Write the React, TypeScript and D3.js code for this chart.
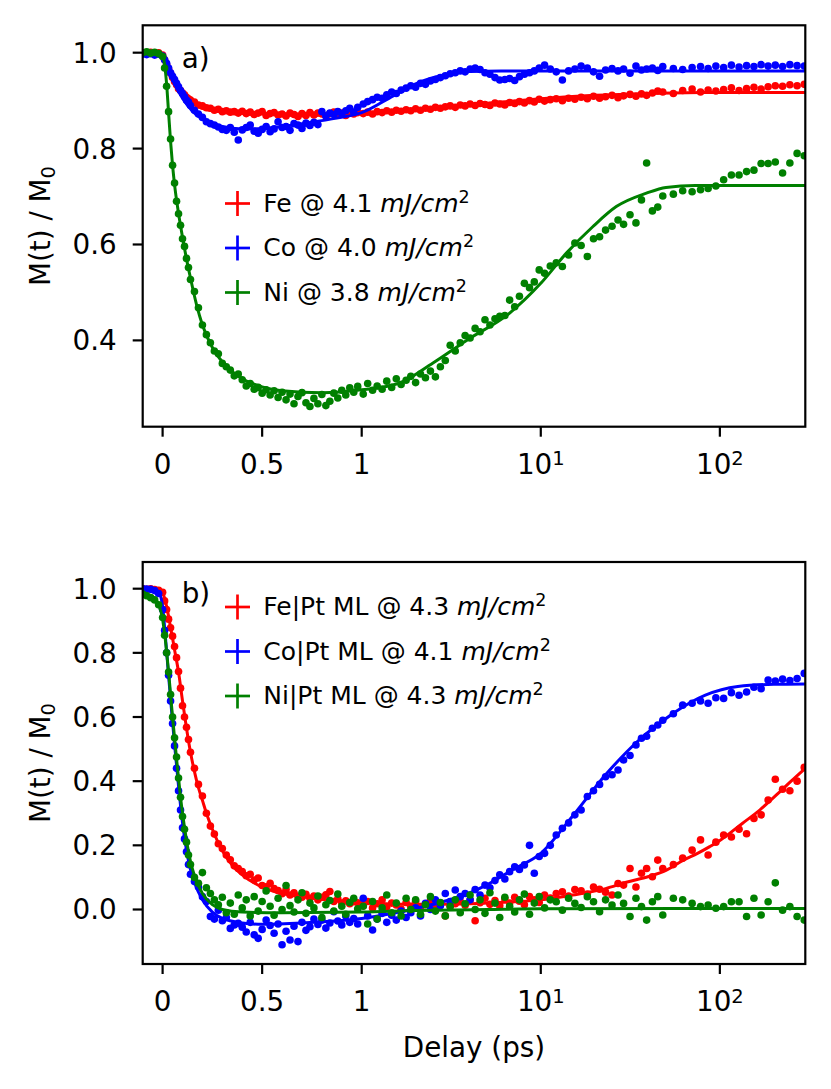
import React from "react";
import * as d3 from "d3";

// ---------- shared delay grid (ps) ----------
const tLin = [
  -0.1, -0.08, -0.06, -0.04, -0.02, 0,
  0.01, 0.02, 0.03, 0.04, 0.05, 0.06, 0.07, 0.08, 0.09, 0.1, 0.11, 0.12, 0.13, 0.14,
  0.16, 0.18, 0.2, 0.22, 0.24, 0.26, 0.28, 0.3, 0.32, 0.34, 0.36, 0.38, 0.4, 0.42, 0.44, 0.46,
  0.48, 0.5, 0.52, 0.54, 0.56, 0.58, 0.6, 0.62, 0.64, 0.66, 0.68, 0.7, 0.72, 0.74, 0.76, 0.78,
  0.8, 0.82, 0.84, 0.86, 0.88, 0.9, 0.92, 0.94, 0.96, 0.98,
];
const tLog = [
  1.02, 1.08, 1.15, 1.22, 1.3, 1.38, 1.47, 1.56, 1.66, 1.77,
  1.88, 2.0, 2.13, 2.27, 2.42, 2.58, 2.75, 2.93, 3.12, 3.33,
  3.55, 3.78, 4.03, 4.3, 4.58, 4.88, 5.2, 5.55, 5.9, 6.3,
  6.7, 7.15, 7.6, 8.1, 8.65, 9.2, 9.8, 10.5, 11.3, 12.2,
  13.2, 14.3, 15.5, 16.8, 18.2, 19.7, 21.3, 23, 25, 27,
  29, 31.5, 34, 36.5, 39, 42, 45, 48, 55, 62,
  70, 78, 86, 95, 105, 116, 128, 141, 155, 170,
  186, 204, 224, 246, 270, 296,
];
const delays = [...tLin, ...tLog];

// ---------- panel a data: M(t)/M0 ----------
const feA = [
  1.0, 0.999, 1.001, 0.998, 1.0, 0.995,
  0.985, 0.975, 0.966, 0.957, 0.948, 0.94, 0.933, 0.925, 0.921, 0.916, 0.912, 0.907, 0.904, 0.901,
  0.897, 0.891, 0.889, 0.885, 0.884, 0.88, 0.882, 0.877, 0.879, 0.876, 0.877, 0.874, 0.878, 0.873,
  0.876, 0.871, 0.874, 0.877, 0.869, 0.873, 0.875, 0.87, 0.872, 0.868, 0.874, 0.871, 0.867, 0.873,
  0.869, 0.875, 0.87, 0.874, 0.872, 0.868, 0.873, 0.876, 0.871, 0.874, 0.869, 0.874, 0.872, 0.875,
  0.873, 0.876, 0.872, 0.877, 0.875, 0.879, 0.876, 0.88, 0.878, 0.881,
  0.879, 0.883, 0.88, 0.884, 0.882, 0.886, 0.884, 0.887, 0.889, 0.886,
  0.891, 0.889, 0.893, 0.89, 0.894, 0.892, 0.89, 0.895, 0.893, 0.891,
  0.896, 0.894, 0.898, 0.895, 0.9, 0.897, 0.903, 0.899, 0.902, 0.904,
  0.9, 0.905, 0.903, 0.907, 0.904, 0.909, 0.905, 0.908, 0.911, 0.906,
  0.91, 0.913, 0.909, 0.914, 0.911, 0.916, 0.92, 0.918, 0.915, 0.921,
  0.924, 0.918, 0.922, 0.92, 0.923, 0.927, 0.921, 0.925, 0.928, 0.924,
  0.929, 0.931, 0.93, 0.933, 0.931, 0.934,
];
const coA = [
  0.997, 0.996, 0.998, 0.995, 0.997, 0.993,
  0.985, 0.978, 0.968, 0.958, 0.951, 0.944, 0.936, 0.929, 0.921, 0.915, 0.908, 0.901, 0.897, 0.89,
  0.88, 0.872, 0.865, 0.856, 0.852, 0.849, 0.845, 0.84, 0.838, 0.844, 0.834, 0.818, 0.839, 0.844,
  0.849, 0.836, 0.832, 0.84, 0.846, 0.835, 0.841, 0.856, 0.844, 0.846, 0.838, 0.852, 0.849, 0.842,
  0.853, 0.848, 0.855, 0.85, 0.877, 0.868, 0.874, 0.871, 0.877, 0.873, 0.879, 0.884, 0.876, 0.886,
  0.893, 0.898, 0.902, 0.907, 0.905, 0.912, 0.918, 0.915, 0.922, 0.926,
  0.931, 0.928, 0.936, 0.934, 0.941, 0.944, 0.948, 0.952, 0.956, 0.958,
  0.962, 0.96, 0.966, 0.968, 0.965, 0.958, 0.955, 0.948, 0.943, 0.944,
  0.946, 0.942, 0.95, 0.955, 0.958, 0.962, 0.968, 0.974, 0.966, 0.96,
  0.943, 0.962, 0.966, 0.972, 0.968, 0.96, 0.951, 0.964, 0.967, 0.962,
  0.966, 0.957, 0.972, 0.964, 0.966, 0.968, 0.963, 0.971, 0.967, 0.965,
  0.969, 0.971, 0.967, 0.972, 0.969, 0.974, 0.97, 0.973, 0.971, 0.975,
  0.972, 0.974, 0.971, 0.975, 0.973, 0.972,
];
const niA = [
  1.0, 1.002, 0.999, 1.001, 0.998, 0.992,
  0.968, 0.93, 0.877, 0.82, 0.765, 0.728, 0.69, 0.664, 0.64, 0.612, 0.596, 0.571, 0.552, 0.527,
  0.502, 0.468, 0.432, 0.412, 0.395, 0.378, 0.372, 0.352, 0.345, 0.338, 0.326, 0.33, 0.318, 0.305,
  0.31, 0.298, 0.302, 0.29, 0.297, 0.286, 0.295, 0.281, 0.292, 0.276, 0.288, 0.268, 0.283, 0.291,
  0.27, 0.262, 0.279, 0.268, 0.287, 0.264, 0.273, 0.29, 0.28, 0.296, 0.286, 0.301, 0.292, 0.304,
  0.288, 0.31, 0.296, 0.305, 0.298, 0.315, 0.302, 0.32, 0.308, 0.317,
  0.325, 0.312, 0.33, 0.322, 0.336, 0.324, 0.345, 0.358, 0.39, 0.378,
  0.395, 0.41, 0.405, 0.425, 0.418, 0.443, 0.432, 0.445, 0.45, 0.452,
  0.484, 0.47, 0.492, 0.519, 0.51, 0.522, 0.547, 0.54, 0.555, 0.562,
  0.554, 0.578, 0.603, 0.598, 0.575, 0.612, 0.616, 0.63, 0.638, 0.651,
  0.642, 0.662, 0.645, 0.693, 0.77, 0.67, 0.678, 0.701, 0.705, 0.712,
  0.71, 0.714, 0.717, 0.722, 0.735, 0.745, 0.745, 0.752, 0.755, 0.769,
  0.769, 0.772, 0.749, 0.77, 0.79, 0.785,
];

// ---------- panel b data ----------
const feB = [
  1.0, 0.998, 1.0, 0.997, 0.995, 0.989,
  0.962, 0.935, 0.905, 0.878, 0.852, 0.82, 0.785, 0.742, 0.69, 0.635, 0.6, 0.568, 0.53, 0.49,
  0.44, 0.39, 0.354, 0.3, 0.26, 0.235, 0.205, 0.19, 0.17, 0.155, 0.136, 0.128, 0.118, 0.105,
  0.11, 0.092, 0.098, 0.075, 0.071, 0.082, 0.065, 0.059, 0.049, 0.062, 0.045, 0.052, 0.041, 0.038,
  0.047, 0.035, 0.042, 0.03, 0.038, 0.046, 0.056, 0.025, 0.033, 0.02, 0.027, 0.018, 0.024, 0.021,
  0.012, 0.025, 0.005, 0.018, 0.03, 0.008, 0.02, 0.014, 0.001, 0.022,
  0.01, 0.026, 0.004, 0.016, 0.028, 0.012, 0.02, -0.02, 0.009, 0.018,
  0.025, 0.013, 0.03, -0.035, 0.021, 0.035, 0.016, 0.028, 0.012, 0.033,
  0.02, 0.038, 0.026, 0.015, 0.04, 0.03, 0.022, 0.045, 0.036, 0.05,
  0.055, 0.042, 0.062, 0.058, 0.048, 0.07, 0.063, 0.054, 0.045, 0.081,
  0.076, 0.128, 0.07, 0.113, 0.128, 0.102, 0.154, 0.128, 0.14, 0.16,
  0.185, 0.217, 0.17, 0.21, 0.232, 0.226, 0.25, 0.236, 0.284, 0.295,
  0.341, 0.406, 0.375, 0.37, 0.4, 0.443,
];
const coB = [
  1.0, 0.999, 0.998, 0.994, 0.985, 0.935,
  0.87, 0.8, 0.73, 0.65, 0.58, 0.51, 0.44, 0.37, 0.31, 0.255, 0.22, 0.18, 0.14, 0.11,
  0.087, 0.07, 0.04, 0.025, -0.022, -0.03, -0.002, -0.035, -0.025, -0.059, -0.048, -0.043, -0.055, -0.07,
  -0.04, -0.079, -0.09, -0.062, -0.033, -0.05, -0.074, -0.045, -0.11, -0.068, -0.095, -0.052, -0.1, -0.04,
  -0.065, -0.054, -0.03, -0.047, -0.033, -0.058, -0.042, -0.007, -0.036, -0.048, -0.02, -0.04, -0.028, -0.045,
  0.035, -0.02, -0.064, -0.03, -0.012, -0.04, -0.018, -0.033, -0.005, -0.025,
  -0.01, 0.005, -0.02, 0.019, 0.0, 0.03, 0.012, 0.05, 0.025, 0.061,
  0.04, 0.05, 0.03, 0.062, 0.045, 0.076, 0.068, 0.09, 0.108, 0.095,
  0.118, 0.133, 0.125, 0.139, 0.2, 0.113, 0.165, 0.175, 0.2, 0.232,
  0.253, 0.27, 0.295, 0.31, 0.352, 0.37, 0.39, 0.414, 0.42, 0.435,
  0.466, 0.48, 0.513, 0.534, 0.54, 0.565, 0.575, 0.59, 0.61, 0.637,
  0.643, 0.65, 0.643, 0.66, 0.658, 0.676, 0.668, 0.678, 0.693, 0.688,
  0.715, 0.712, 0.718, 0.714, 0.72, 0.736,
];
const niB = [
  0.983, 0.978, 0.972, 0.965, 0.95, 0.91,
  0.855, 0.8, 0.74, 0.67, 0.6, 0.535, 0.475, 0.41, 0.35, 0.29, 0.25, 0.21, 0.17, 0.14,
  0.1, 0.082, 0.115, 0.068, 0.05, 0.03, 0.015, 0.038, -0.01, 0.02, -0.015, 0.045, 0.005, 0.03,
  -0.02, 0.04, -0.005, 0.025, 0.058, 0.01, -0.018, 0.035, 0.0, 0.075, 0.012, -0.008, 0.03, 0.052,
  -0.012, 0.02, 0.005, 0.042, -0.025, 0.015, 0.028, -0.005, 0.048, 0.01, -0.015, 0.022, 0.035, 0.002,
  0.01, -0.045, 0.025, -0.03, 0.005, 0.045, -0.01, 0.02, -0.02, 0.035,
  0.0, 0.03, -0.015, 0.015, 0.04, -0.005, 0.022, -0.02, 0.01, 0.03,
  -0.01, 0.018, 0.045, 0.0, 0.03, -0.012, 0.052, 0.02, -0.025, 0.038,
  0.01, -0.008, 0.03, 0.048, -0.015, 0.02, 0.04, 0.005, 0.03, 0.024,
  -0.002, 0.035, 0.019, 0.006, 0.04, 0.024, -0.007, 0.03, 0.014, 0.045,
  0.019, -0.022, 0.035, 0.009, -0.033, 0.024, 0.04, -0.017, 0.035, 0.03,
  0.019, 0.009, 0.014, 0.004, 0.009, 0.024, 0.024, -0.022, 0.035, -0.017,
  0.024, 0.083, -0.002, 0.009, -0.022, -0.033,
];

// ---------- fitted curves [delay, M/M0] ----------
const fitFeA: [number, number][] = [
  [-0.1, 1.0], [-0.02, 0.999], [0, 0.996], [0.02, 0.976], [0.04, 0.955], [0.06, 0.937], [0.08, 0.922],
  [0.1, 0.911], [0.13, 0.899], [0.16, 0.891], [0.2, 0.884], [0.3, 0.877], [0.4, 0.874], [0.6, 0.872],
  [0.8, 0.872], [1, 0.873], [1.5, 0.877], [2, 0.881], [3, 0.887], [4, 0.891], [6, 0.897], [10, 0.904],
  [20, 0.911], [40, 0.915], [80, 0.917], [300, 0.917],
];
const fitCoA: [number, number][] = [
  [-0.1, 0.997], [-0.02, 0.997], [0, 0.993], [0.02, 0.977], [0.05, 0.945], [0.1, 0.905], [0.15, 0.878],
  [0.2, 0.861], [0.3, 0.846], [0.4, 0.841], [0.5, 0.842], [0.7, 0.852], [0.85, 0.862], [1, 0.875],
  [1.5, 0.91], [2, 0.935], [3, 0.955], [4, 0.961], [6, 0.962], [300, 0.962],
];
const fitNiA: [number, number][] = [
  [-0.1, 1.0], [-0.02, 1.0], [0, 0.995], [0.01, 0.975], [0.02, 0.935], [0.03, 0.875], [0.04, 0.815],
  [0.05, 0.765], [0.06, 0.725], [0.08, 0.665], [0.1, 0.615], [0.12, 0.57], [0.14, 0.53], [0.17, 0.475],
  [0.2, 0.432], [0.25, 0.385], [0.3, 0.355], [0.4, 0.32], [0.5, 0.303], [0.6, 0.295], [0.8, 0.291],
  [1, 0.297], [1.6, 0.31], [2.5, 0.353], [3.85, 0.4], [6.7, 0.457], [10, 0.519], [13.9, 0.582],
  [19.5, 0.637], [26.4, 0.679], [38.9, 0.707], [50, 0.719], [73, 0.723], [300, 0.723],
];
const fitFeB: [number, number][] = [
  [-0.1, 1.0], [-0.02, 0.998], [0, 0.988], [0.02, 0.945], [0.04, 0.88], [0.06, 0.81], [0.08, 0.74],
  [0.1, 0.65], [0.12, 0.565], [0.14, 0.49], [0.16, 0.43], [0.18, 0.38], [0.2, 0.34], [0.22, 0.3],
  [0.25, 0.25], [0.3, 0.183], [0.35, 0.138], [0.4, 0.108], [0.5, 0.07], [0.6, 0.05], [0.7, 0.04],
  [0.8, 0.032], [1, 0.022], [2, 0.016], [4, 0.018], [7, 0.024], [10, 0.03], [15, 0.045], [23, 0.065],
  [30, 0.085], [40, 0.103], [50, 0.122], [62.6, 0.154], [75, 0.175], [87.8, 0.196], [100, 0.215],
  [134, 0.269], [167, 0.31], [207, 0.357], [250, 0.4], [300, 0.44],
];
const fitCoB: [number, number][] = [
  [-0.1, 1.0], [-0.04, 0.997], [-0.02, 0.99], [0, 0.945], [0.01, 0.88], [0.02, 0.805], [0.03, 0.73],
  [0.04, 0.655], [0.05, 0.585], [0.06, 0.515], [0.07, 0.45], [0.08, 0.385], [0.09, 0.325], [0.1, 0.27],
  [0.12, 0.185], [0.14, 0.125], [0.16, 0.085], [0.2, 0.03], [0.25, -0.008], [0.3, -0.028], [0.4, -0.042],
  [0.5, -0.046], [0.7, -0.042], [1, -0.028], [1.5, -0.012], [2, 0.003], [3, 0.028], [4, 0.052],
  [5, 0.077], [7, 0.125], [10, 0.175], [15, 0.29], [23, 0.42], [35, 0.526], [55, 0.612], [83, 0.668],
  [126, 0.695], [200, 0.702], [300, 0.703],
];
const fitNiB: [number, number][] = [
  [-0.1, 0.985], [-0.06, 0.978], [-0.04, 0.97], [-0.02, 0.95], [0, 0.905], [0.01, 0.86], [0.02, 0.805],
  [0.03, 0.74], [0.04, 0.67], [0.05, 0.6], [0.06, 0.535], [0.07, 0.47], [0.08, 0.41], [0.09, 0.35],
  [0.1, 0.3], [0.12, 0.215], [0.14, 0.15], [0.16, 0.105], [0.2, 0.05], [0.25, 0.015], [0.3, 0.0],
  [0.4, -0.008], [0.6, -0.01], [1, -0.008], [2, -0.003], [5, 0.0], [10, 0.002], [300, 0.003],
];

// ---------- ticks & labels ----------
const xTicks = [
  { v: 0, base: "0", sup: "" },
  { v: 0.5, base: "0.5", sup: "" },
  { v: 1, base: "1", sup: "" },
  { v: 10, base: "10", sup: "1" },
  { v: 100, base: "10", sup: "2" },
];
const yTicksA = [0.4, 0.6, 0.8, 1.0];
const yTicksB = [0.0, 0.2, 0.4, 0.6, 0.8, 1.0];
const legendA = [
  { name: "Fe @ 4.1 ", color: "#ff0000" },
  { name: "Co @ 4.0 ", color: "#0000ff" },
  { name: "Ni @ 3.8 ", color: "#008000" },
];
const legendB = [
  { name: "Fe|Pt ML @ 4.3 ", color: "#ff0000" },
  { name: "Co|Pt ML @ 4.1 ", color: "#0000ff" },
  { name: "Ni|Pt ML @ 4.3 ", color: "#008000" },
];

// ---------- layout ----------
const W = 831;
const H = 1089;
const X0 = 142.7;
const X1 = 361.7; // position of delay = 1 ps (linear/log break)
const X2 = 805.3;
const FONT = "DejaVu Sans, Verdana, sans-serif";

const xLin = d3.scaleLinear().domain([-0.1, 1]).range([X0, X1]);
const xLog = d3.scaleLog().domain([1, 300]).range([X1, X2]);
const xPos = (t: number) => (t <= 1 ? xLin(t) : xLog(t));

type Series = { color: string; values: number[]; fit: [number, number][] };

function Panel(props: {
  id: string;
  top: number;
  bottom: number;
  yDomain: [number, number];
  yTicks: number[];
  tag: string;
  tagY: number;
  legend: { name: string; color: string }[];
  legendY0: number;
  series: Series[];
}) {
  const { id, top, bottom, yDomain, yTicks, tag, tagY, legend, legendY0, series } = props;
  const y = d3.scaleLinear().domain(yDomain).range([bottom, top]);
  const line = d3
    .line<[number, number]>()
    .x((d) => xPos(d[0]))
    .y((d) => y(d[1]))
    .curve(d3.curveMonotoneX);
  const fmt = d3.format(".1f");
  const midY = (top + bottom) / 2;
  return (
    <g>
      <defs>
        <clipPath id={id}>
          <rect x={X0} y={top} width={X2 - X0} height={bottom - top} />
        </clipPath>
      </defs>
      <g clipPath={`url(#${id})`}>
        {series.map((s, si) => (
          <g key={si}>
            {delays.map((t, i) =>
              s.values[i] === undefined ? null : (
                <circle key={i} cx={xPos(t)} cy={y(s.values[i])} r={3.8} fill={s.color} />
              )
            )}
            <path d={line(s.fit) || ""} fill="none" stroke={s.color} strokeWidth={3} />
          </g>
        ))}
      </g>
      <rect x={X0} y={top} width={X2 - X0} height={bottom - top} fill="none" stroke="#000" strokeWidth={2.2} />
      {yTicks.map((v) => (
        <g key={v}>
          <line x1={X0 - 10} x2={X0} y1={y(v)} y2={y(v)} stroke="#000" strokeWidth={2.2} />
          <text x={116.7} y={y(v) + 10} textAnchor="end" fontSize={27.8} fontFamily={FONT} fill="#000">
            {fmt(v)}
          </text>
        </g>
      ))}
      {xTicks.map((tk) => (
        <g key={tk.v}>
          <line x1={xPos(tk.v)} x2={xPos(tk.v)} y1={bottom} y2={bottom + 10} stroke="#000" strokeWidth={2.2} />
          <text x={xPos(tk.v)} y={bottom + 47} textAnchor="middle" fontSize={27.8} fontFamily={FONT} fill="#000">
            {tk.base}
            {tk.sup ? (
              <tspan dy={-8.5} fontSize={19.5}>
                {tk.sup}
              </tspan>
            ) : null}
          </text>
        </g>
      ))}
      <text
        transform={`translate(50,${midY}) rotate(-90)`}
        textAnchor="middle"
        fontSize={27.8}
        fontFamily={FONT}
        fill="#000"
      >
        M(t) / M
        <tspan dy={4.5} fontSize={19.5}>
          0
        </tspan>
      </text>
      <text x={181.7} y={tagY} fontSize={27.8} fontFamily={FONT} fill="#000">
        {tag}
      </text>
      {legend.map((l, i) => {
        const cy = legendY0 + i * 44.5;
        const cx = 237.5;
        return (
          <g key={l.name}>
            <line x1={cx - 12.5} x2={cx + 12.5} y1={cy} y2={cy} stroke={l.color} strokeWidth={2.7} />
            <line x1={cx} x2={cx} y1={cy - 12.5} y2={cy + 12.5} stroke={l.color} strokeWidth={2.7} />
            <text x={263.3} y={cy + 8} fontSize={25} fontFamily={FONT} fill="#000">
              {l.name}
              <tspan fontStyle="italic">mJ/cm</tspan>
              <tspan dy={-9} fontSize={17.5}>
                2
              </tspan>
            </text>
          </g>
        );
      })}
    </g>
  );
}

export default function App() {
  return (
    <svg
      width={W}
      height={H}
      viewBox={`0 0 ${W} ${H}`}
      style={{ position: "absolute", left: 0, top: 0, background: "#fff" }}
    >
      <rect x={0} y={0} width={W} height={H} fill="#fff" />
      <Panel
        id="clipA"
        top={25.3}
        bottom={426.7}
        yDomain={[0.22, 1.0571]}
        yTicks={yTicksA}
        tag="a)"
        tagY={68.3}
        legend={legendA}
        legendY0={203.5}
        series={[
          { color: "#ff0000", values: feA, fit: fitFeA },
          { color: "#0000ff", values: coA, fit: fitCoA },
          { color: "#008000", values: niA, fit: fitNiA },
        ]}
      />
      <Panel
        id="clipB"
        top={562}
        bottom={964}
        yDomain={[-0.1699, 1.0832]}
        yTicks={yTicksB}
        tag="b)"
        tagY={603.3}
        legend={legendB}
        legendY0={607}
        series={[
          { color: "#ff0000", values: feB, fit: fitFeB },
          { color: "#0000ff", values: coB, fit: fitCoB },
          { color: "#008000", values: niB, fit: fitNiB },
        ]}
      />
      <text x={(X0 + X2) / 2} y={1057} textAnchor="middle" fontSize={27.8} fontFamily={FONT} fill="#000">
        Delay (ps)
      </text>
    </svg>
  );
}
